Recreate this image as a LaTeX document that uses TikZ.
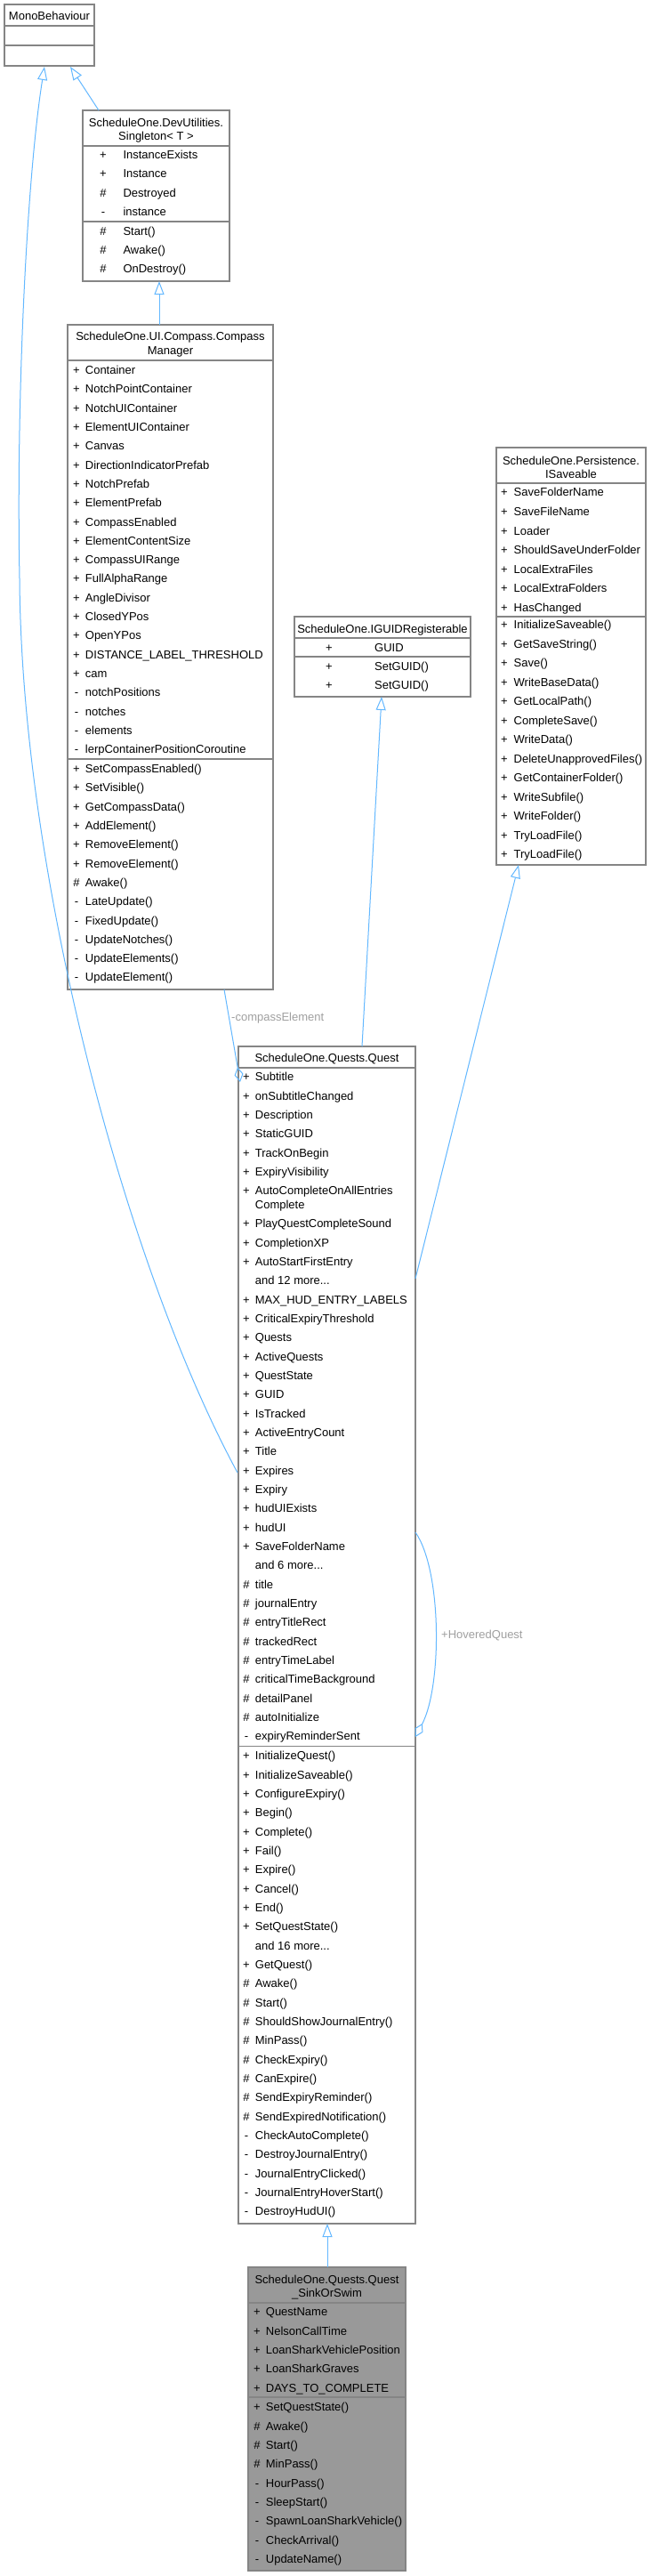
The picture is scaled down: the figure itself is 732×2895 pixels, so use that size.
\documentclass[tikz,border=0pt]{standalone}
\usepackage{fontspec}
\setmainfont{Liberation Sans}
\usetikzlibrary{arrows.meta}
\definecolor{edgeblue}{HTML}{63B8FF}
\definecolor{boxgray}{HTML}{858585}
\definecolor{labgray}{HTML}{A0A0A0}
\definecolor{fillgray}{HTML}{999999}
\tikzset{
 cls/.style={draw=boxgray, line width=1.2pt, fill=white, anchor=north west, inner sep=0pt, outer sep=0pt},
 txt/.style={anchor=west, inner sep=0pt, text height=9.3pt, text depth=0pt, font=\fontsize{13}{15}\selectfont},
 ctxt/.style={txt, anchor=center},
 sep/.style={draw=boxgray, line width=1.2pt},
 inh/.style={draw=edgeblue, line width=1pt, -{Triangle[open, length=15pt, width=11pt]}},
 agg/.style={draw=edgeblue, line width=1pt, -{Diamond[open, length=17pt, width=10pt]}},
 lab/.style={txt, text=labgray},
}
\newcommand\umlrows[6]{\foreach \m/\n [count=\i from #5] in {#6}{\node[ctxt] at (#1,{#3+\i*#4}) {\m}; \node[txt] at (#2,{#3+\i*#4}) {\n};}}
\begin{document}
\begin{tikzpicture}[x=1pt,y=-1pt]
\useasboundingbox (0,0) rectangle (732,2895);
\fill[white] (0,0) rectangle (732,2895);

% MonoBehaviour
\node[cls, minimum width=101pt, minimum height=69pt] (mono) at (5,5) {};
\node[ctxt] at (55.5,18) {MonoBehaviour};
\draw[sep] (5,29) -- (106,29);
\draw[sep] (5,51) -- (106,51);

% Singleton
\node[cls, minimum width=165pt, minimum height=192pt] (sing) at (93,124) {};
\node[ctxt] at (175.5,138) {ScheduleOne.DevUtilities.};
\node[ctxt] at (175.5,153) {Singleton< T >};
\draw[sep] (93,164) -- (258,164);
\draw[sep] (93,249) -- (258,249);
\umlrows{116}{138.3}{174}{21.3}{0}{+/InstanceExists,+/Instance,\#/Destroyed,-/instance}
\umlrows{116}{138.3}{259.5}{21.3}{0}{\#/Start(),\#/Awake(),\#/OnDestroy()}

% CompassManager
\node[cls, minimum width=231pt, minimum height=747pt] (comp) at (76,365) {};
\node[ctxt] at (191.5,378) {ScheduleOne.UI.Compass.Compass};
\node[ctxt] at (191.5,394) {Manager};
\draw[sep] (76,405) -- (307,405);
\draw[sep] (76,853) -- (307,853);
\umlrows{86}{95.7}{416}{21.3}{0}{+/Container,+/NotchPointContainer,+/NotchUIContainer,+/ElementUIContainer,+/Canvas,+/DirectionIndicatorPrefab,+/NotchPrefab,+/ElementPrefab,+/CompassEnabled,+/ElementContentSize,+/CompassUIRange,+/FullAlphaRange,+/AngleDivisor,+/ClosedYPos,+/OpenYPos,+/DISTANCE\_LABEL\_THRESHOLD,+/cam,-/notchPositions,-/notches,-/elements,-/lerpContainerPositionCoroutine}
\umlrows{86}{95.7}{864}{21.3}{0}{+/SetCompassEnabled(),+/SetVisible(),+/GetCompassData(),+/AddElement(),+/RemoveElement(),+/RemoveElement(),\#/Awake(),-/LateUpdate(),-/FixedUpdate(),-/UpdateNotches(),-/UpdateElements(),-/UpdateElement()}

% IGUIDRegisterable
\node[cls, minimum width=198pt, minimum height=90pt] (iguid) at (331,693) {};
\node[ctxt] at (430,707) {ScheduleOne.IGUIDRegisterable};
\draw[sep] (331,717) -- (529,717);
\draw[sep] (331,738) -- (529,738);
\umlrows{370}{421}{728}{21.3}{0}{+/GUID}
\umlrows{370}{421}{749}{21.3}{0}{+/SetGUID(),+/SetGUID()}

% ISaveable
\node[cls, minimum width=168pt, minimum height=469pt] (isav) at (558,503) {};
\node[ctxt] at (642,518) {ScheduleOne.Persistence.};
\node[ctxt] at (642,533) {ISaveable};
\draw[sep] (558,543) -- (726,543);
\draw[sep] (558,693) -- (726,693);
\umlrows{567}{577.5}{553.3}{21.57}{0}{+/SaveFolderName,+/SaveFileName,+/Loader,+/ShouldSaveUnderFolder,+/LocalExtraFiles,+/LocalExtraFolders,+/HasChanged}
\umlrows{567}{577.5}{702.3}{21.48}{0}{+/InitializeSaveable(),+/GetSaveString(),+/Save(),+/WriteBaseData(),+/GetLocalPath(),+/CompleteSave(),+/WriteData(),+/DeleteUnapprovedFiles(),+/GetContainerFolder(),+/WriteSubfile(),+/WriteFolder(),+/TryLoadFile(),+/TryLoadFile()}

% Quest
\node[cls, minimum width=199pt, minimum height=1323pt] (quest) at (268,1176) {};
\node[ctxt] at (367.5,1189) {ScheduleOne.Quests.Quest};
\draw[sep] (268,1200) -- (467,1200);
\draw[sep] (268,1962.7) -- (467,1962.7);
\umlrows{277}{286.7}{1210.3}{21.33}{0}{+/Subtitle,+/onSubtitleChanged,+/Description,+/StaticGUID,+/TrackOnBegin,+/ExpiryVisibility,+/AutoCompleteOnAllEntries}
\node[txt] at (286.7,1354.3) {Complete};
\umlrows{277}{286.7}{1375.3}{21.33}{0}{+/PlayQuestCompleteSound,+/CompletionXP,+/AutoStartFirstEntry}
\node[txt] at (286.7,1439.3) {and 12 more...};
\umlrows{277}{286.7}{1375.3}{21.33}{4}{+/MAX\_HUD\_ENTRY\_LABELS,+/CriticalExpiryThreshold,+/Quests,+/ActiveQuests,+/QuestState,+/GUID,+/IsTracked,+/ActiveEntryCount,+/Title,+/Expires,+/Expiry,+/hudUIExists,+/hudUI,+/SaveFolderName}
\node[txt] at (286.7,1759.2) {and 6 more...};
\umlrows{277}{286.7}{1375.3}{21.33}{19}{\#/title,\#/journalEntry,\#/entryTitleRect,\#/trackedRect,\#/entryTimeLabel,\#/criticalTimeBackground,\#/detailPanel,\#/autoInitialize,-/expiryReminderSent}
\umlrows{277}{286.7}{1973.3}{21.33}{0}{+/InitializeQuest(),+/InitializeSaveable(),+/ConfigureExpiry(),+/Begin(),+/Complete(),+/Fail(),+/Expire(),+/Cancel(),+/End(),+/SetQuestState()}
\node[txt] at (286.7,2186.6) {and 16 more...};
\umlrows{277}{286.7}{1973.3}{21.33}{11}{+/GetQuest(),\#/Awake(),\#/Start(),\#/ShouldShowJournalEntry(),\#/MinPass(),\#/CheckExpiry(),\#/CanExpire(),\#/SendExpiryReminder(),\#/SendExpiredNotification(),-/CheckAutoComplete(),-/DestroyJournalEntry(),-/JournalEntryClicked(),-/JournalEntryHoverStart(),-/DestroyHudUI()}

% Quest_SinkOrSwim
\node[cls, fill=fillgray, minimum width=177pt, minimum height=341pt] (sink) at (279,2548) {};
\node[ctxt] at (367.5,2562) {ScheduleOne.Quests.Quest};
\node[ctxt] at (367.5,2577) {\_SinkOrSwim};
\draw[sep] (279,2588) -- (456,2588);
\draw[sep] (279,2694) -- (456,2694);
\umlrows{289}{298.7}{2598.3}{21.33}{0}{+/QuestName,+/NelsonCallTime,+/LoanSharkVehiclePosition,+/LoanSharkGraves,+/DAYS\_TO\_COMPLETE}
\umlrows{289}{298.7}{2705.3}{21.33}{0}{+/SetQuestState(),\#/Awake(),\#/Start(),\#/MinPass(),-/HourPass(),-/SleepStart(),-/SpawnLoanSharkVehicle(),-/CheckArrival(),-/UpdateName()}

% connector end points
\coordinate (monoA) at (79,75);
\coordinate (monoB) at (50,75);
\coordinate (singT) at (111,124);
\coordinate (singB) at (179,316);
\coordinate (compT) at (179,365);
\coordinate (compB) at (252,1112);
\coordinate (questTL) at (270,1216);
\coordinate (questT) at (407,1176);
\coordinate (iguidB) at (429,783);
\coordinate (questR1) at (467,1437);
\coordinate (isavB) at (583,972);
\coordinate (questL) at (267,1655);
\coordinate (questR2) at (467,1722);
\coordinate (questR3) at (467,1952);
\coordinate (sinkT) at (368,2548);
\coordinate (questB) at (368,2499);

% connectors
\draw[inh] (singT) -- (monoA);
\draw[inh] (questL) .. controls (140,1420) and (24,980) .. (22,650) .. controls (18,450) and (30,200) .. (monoB);
\draw[inh] (compT) -- (singB);
\draw[inh] (questT) -- (iguidB);
\draw[inh] (questR1) -- (isavB);
\draw[inh] (sinkT) -- (questB);
\draw[agg] (compB) -- (questTL);
\draw[agg] (questR2) .. controls (497,1765) and (497,1895) .. (questR3);
\node[lab] (lcomp) at (260,1143) {-compassElement};
\node[lab] (lhov) at (496,1837) {+HoveredQuest};
\end{tikzpicture}
\end{document}
